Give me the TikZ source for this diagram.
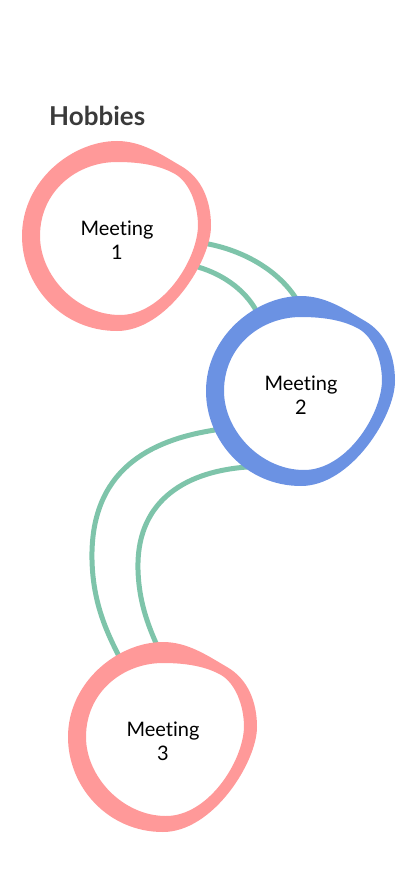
\documentclass[tikz,border=0pt]{standalone}
\usepackage{fontspec}
\setmainfont{Lato}[Ligatures={NoCommon}]
\usetikzlibrary{calc}
\definecolor{pinkc}{RGB}{255,153,153}
\definecolor{bluec}{RGB}{107,146,227}
\definecolor{greenc}{RGB}{126,196,170}
\definecolor{titlec}{RGB}{58,58,58}
\tikzset{
  meet/.style={align=center, inner sep=0pt, font=\fontsize{20}{24}\selectfont, text=black},
  link/.style={draw=greenc, line width=5pt, line cap=round},
}
\newcommand\blobring[2]{%
  \begin{scope}[shift={($(#1)+(0,-4)$)}]
  \fill[#2, even odd rule]
    (0,-95) .. controls (25,-95) and (45,-81) .. (64,-70)
            .. controls (85,-58) and (94,-35) .. (94,-10)
            .. controls (94,25) and (50,95) .. (0,95)
            .. controls (-55,95) and (-95,50) .. (-95,0)
            .. controls (-95,-55) and (-45,-95) .. (0,-95) -- cycle
    (0,-74) .. controls (25,-74) and (44,-70) .. (58,-62)
            .. controls (72,-54) and (81,-32) .. (81,-10)
            .. controls (80,25) and (45,79) .. (3,79)
            .. controls (-40,79) and (-77,40) .. (-77,0)
            .. controls (-77,-45) and (-40,-74) .. (0,-74) -- cycle;
  \end{scope}%
}
\begin{document}
\begin{tikzpicture}[x=1pt,y=-1pt]
\useasboundingbox (0,0) rectangle (414,896);
\node[anchor=base west, inner sep=0pt, font=\fontsize{26}{30}\selectfont\bfseries, text=titlec] (title) at (49,126) {Hobbies};
\node[meet] (m1) at (117,240) {Meeting\\1};
\node[meet] (m2) at (301,395) {Meeting\\2};
\node[meet] (m3) at (163,741) {Meeting\\3};
\coordinate (a1) at (203,243); \coordinate (a2) at (297,300);
\coordinate (b1) at (198,267); \coordinate (b2) at (259,316);
\coordinate (c1) at (215,430); \coordinate (c2) at (122,662);
\coordinate (d1) at (247,467); \coordinate (d2) at (160,652);
\draw[link] (a1) .. controls (245,250) and (280,272) .. (a2);
\draw[link] (b1) .. controls (225,275) and (248,292) .. (b2);
\draw[link] (c1) .. controls (150,440) and (90,470) .. (92,560) .. controls (93,605) and (108,635) .. (c2);
\draw[link] (d1) .. controls (180,472) and (136,505) .. (138,570) .. controls (139,605) and (150,630) .. (d2);
\blobring{m1}{pinkc}
\blobring{m2}{bluec}
\blobring{m3}{pinkc}
\end{tikzpicture}
\end{document}
